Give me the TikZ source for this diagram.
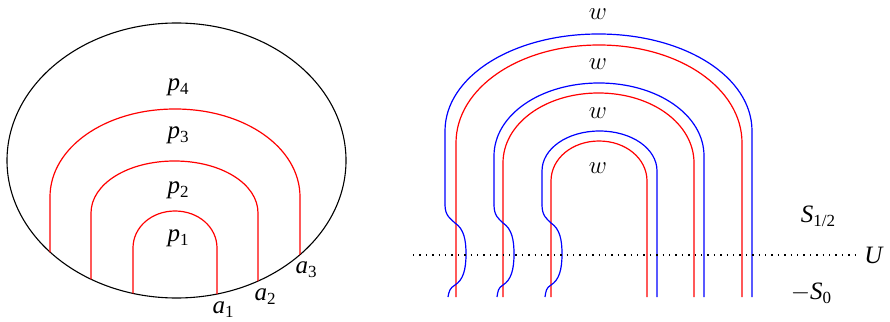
\documentclass[tikz,border=0pt]{standalone}
\usepackage{fontspec}
\setmainfont{Liberation Serif}
\newcommand{\archway}[7]{%
  \pgfmathsetmacro{\myxc}{(#2+#3)/2}%
  \pgfmathsetmacro{\myhw}{(#3-#2)/2}%
  \pgfmathsetmacro{\myhh}{#5-#4}%
  \draw[#1] (#2,#6) -- (#2,#5) .. controls (#2,#5-0.56*\myhh) and (\myxc-0.56*\myhw,#4) .. (\myxc,#4)
     .. controls (\myxc+0.56*\myhw,#4) and (#3,#5-0.56*\myhh) .. (#3,#5) -- (#3,#7);
}
\newcommand{\wiggle}[2]{% #1 blue x, #2 red x
  \draw[blueline] (#1,205) .. controls (#1,216) and (#2-4,219) .. (#2,223)
     .. controls (#2+9,229) and (#2+11,240) .. (#2+11,254)
     .. controls (#2+11,270) and (#2+8,280) .. (#2,285)
     .. controls (#2-5,288) and (#1+4,291) .. (#1+3,297);
}
\newcommand{\lab}[2]{\textit{#1}\raisebox{-0.16em}{\fontsize{17}{17}\selectfont #2}}
\begin{document}
\begin{tikzpicture}[x=1pt,y=-1pt,
  redline/.style={draw=red,line width=1.2pt},
  blueline/.style={draw=blue,line width=1.2pt},
  lbl/.style={anchor=base,inner sep=0pt,font=\fontsize{25}{28}\selectfont}]
\useasboundingbox (0,0) rectangle (890,321);
% left figure
\draw[line width=1.1pt] (176.5,160.5) ellipse [x radius=169.5pt, y radius=137.5pt];
\begin{scope}
  \clip (176.5,160.5) ellipse [x radius=169.5pt, y radius=137.5pt];
  \archway{redline}{133}{217}{211}{248}{305}{305}
  \archway{redline}{91}{258}{161}{213}{305}{305}
  \archway{redline}{50}{300}{109}{197}{305}{305}
\end{scope}
\node[lbl] (p4) at (178,90) {\lab{p}{4}};
\node[lbl] (p3) at (178,138) {\lab{p}{3}};
\node[lbl] (p2) at (178,193) {\lab{p}{2}};
\node[lbl] (p1) at (178,241) {\lab{p}{1}};
\node[lbl] (a1) at (223,313) {\lab{a}{1}};
\node[lbl] (a2) at (265,300) {\lab{a}{2}};
\node[lbl] (a3) at (306,273) {\lab{a}{3}};
% right figure
\archway{blueline}{445}{752}{34}{131}{205}{297}
\archway{redline}{456}{742}{45}{143}{297}{297}
\archway{blueline}{494}{704}{83}{156}{205}{297}
\archway{redline}{503}{694}{93}{163}{297}{297}
\archway{blueline}{542}{657}{131}{171}{205}{297}
\archway{redline}{551}{647}{141}{181}{297}{297}
\wiggle{445}{455}
\wiggle{494}{503}
\wiggle{542}{551}
\draw[line width=1.1pt,dash pattern=on 1.3pt off 5.1pt] (413,255) -- (855,255);
\node[lbl] (w1) at (598,20) {$w$};
\node[lbl] (w2) at (598,70) {$w$};
\node[lbl] (w3) at (598,118) {$w$};
\node[lbl] (w4) at (598,173) {$w$};
\node[lbl] (s12) at (818,222) {\lab{S}{1/2}};
\node[lbl] (s0) at (811,299) {$-$\lab{S}{0}};
\node[lbl] (u) at (874,263) {\textit{U}};
\end{tikzpicture}
\end{document}
